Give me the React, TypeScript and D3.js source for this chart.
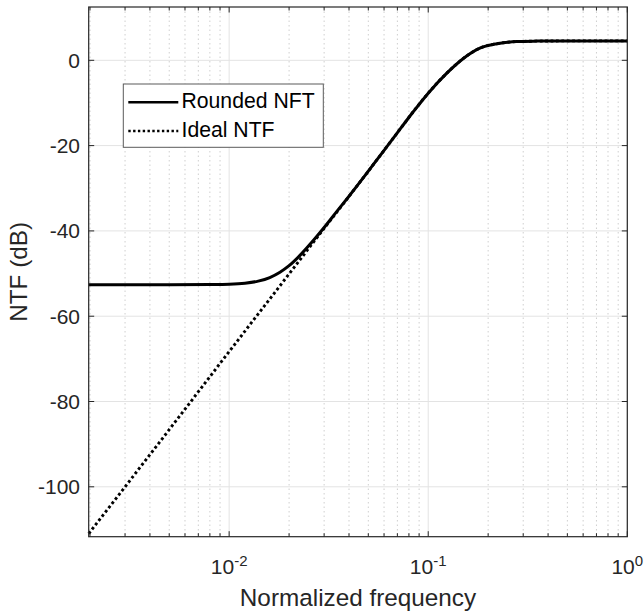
import React from "react";
import * as d3 from "d3";

// ---- data ----
const idealFreq = [0.00197, 0.002, 0.003, 0.005, 0.01, 0.02, 0.03, 0.04, 0.05, 0.0669, 0.0843, 0.1, 0.124, 0.1507, 0.183, 0.222, 0.279, 0.35, 0.5, 0.7, 1];
const idealDb = [-111.0, -110.6, -100.0, -86.6, -68.3, -50.1, -39.4, -31.9, -26.0, -18.2, -12.0, -7.7, -3.0, 0.5, 2.9, 3.9, 4.4, 4.5, 4.55, 4.55, 4.55];

const roundedFreq = [0.00197, 0.003, 0.005, 0.008, 0.01, 0.012, 0.014, 0.016, 0.018, 0.02, 0.023, 0.026, 0.03, 0.035, 0.04, 0.05, 0.0669, 0.0843, 0.1, 0.124, 0.1507, 0.183, 0.222, 0.279, 0.35, 0.5, 0.7, 1];
const roundedDb = [-52.6, -52.6, -52.6, -52.55, -52.48, -52.26, -51.78, -50.94, -49.7, -48.16, -45.45, -42.68, -39.2, -35.25, -31.86, -26.0, -18.2, -12.0, -7.7, -3.0, 0.5, 2.9, 3.9, 4.4, 4.5, 4.55, 4.55, 4.55];

const yTicks = [-100, -80, -60, -40, -20, 0];
const xMajor = [0.01, 0.1, 1];
const xMajorExp = ["-2", "-1", "0"];
const legendLabels = ["Rounded NFT", "Ideal NTF"];

const xDomain: [number, number] = [0.00197, 1];
const yDomain: [number, number] = [-111.7, 12.5];

export default function App() {
  const L = 88.7, R = 627.3, T = 7, B = 536.7;
  const x = d3.scaleLog().domain(xDomain).range([L, R]);
  const y = d3.scaleLinear().domain(yDomain).range([B, T]);

  const minor: number[] = [];
  for (const dec of [0.001, 0.01, 0.1]) {
    for (let k = 2; k <= 9; k++) {
      const v = dec * k;
      if (v >= xDomain[0] && v <= xDomain[1]) minor.push(v);
    }
  }

  const line = d3.line<[number, number]>()
    .x((d) => x(d[0]))
    .y((d) => y(d[1]))
    .curve(d3.curveMonotoneX);

  const idealPath = line(idealFreq.map((f, i) => [f, idealDb[i]] as [number, number])) || "";
  const roundedPath = line(roundedFreq.map((f, i) => [f, roundedDb[i]] as [number, number])) || "";

  const axisColor = "#262626";
  const font = "'Liberation Sans', Arial, Helvetica, sans-serif";

  return (
    <svg width={644} height={614} style={{ position: "absolute", left: 0, top: 0, background: "#fff" }} fontFamily={font}>
      <rect x={0} y={0} width={644} height={614} fill="#fff" />
      {/* minor grid */}
      {minor.map((v) => (
        <line key={"mg" + v} x1={x(v)} x2={x(v)} y1={T} y2={B} stroke="#cfcfcf" strokeWidth={1} strokeDasharray="1.5 3" />
      ))}
      {/* major grid */}
      {xMajor.map((v) => (
        <line key={"Mg" + v} x1={x(v)} x2={x(v)} y1={T} y2={B} stroke="#e3e3e3" strokeWidth={1} />
      ))}
      {yTicks.map((v) => (
        <line key={"yg" + v} x1={L} x2={R} y1={y(v)} y2={y(v)} stroke="#e3e3e3" strokeWidth={1} />
      ))}

      {/* curves */}
      <path d={idealPath} fill="none" stroke="#000" strokeWidth={2.9} strokeDasharray="2.8 2.6" />
      <path d={roundedPath} fill="none" stroke="#000" strokeWidth={3} />

      {/* axes box */}
      <rect x={L} y={T} width={R - L} height={B - T} fill="none" stroke={axisColor} strokeWidth={1.2} />
      {/* ticks */}
      {minor.map((v) => (
        <g key={"mt" + v}>
          <line x1={x(v)} x2={x(v)} y1={B} y2={B - 3.5} stroke={axisColor} strokeWidth={1} />
          <line x1={x(v)} x2={x(v)} y1={T} y2={T + 3.5} stroke={axisColor} strokeWidth={1} />
        </g>
      ))}
      {xMajor.map((v) => (
        <g key={"Mt" + v}>
          <line x1={x(v)} x2={x(v)} y1={B} y2={B - 5.5} stroke={axisColor} strokeWidth={1} />
          <line x1={x(v)} x2={x(v)} y1={T} y2={T + 5.5} stroke={axisColor} strokeWidth={1} />
        </g>
      ))}
      {yTicks.map((v) => (
        <g key={"yt" + v}>
          <line x1={L} x2={L + 5.5} y1={y(v)} y2={y(v)} stroke={axisColor} strokeWidth={1} />
          <line x1={R} x2={R - 5.5} y1={y(v)} y2={y(v)} stroke={axisColor} strokeWidth={1} />
          <text x={80} y={y(v) + 7.5} textAnchor="end" fontSize={21} fill={axisColor}>{String(v)}</text>
        </g>
      ))}
      {xMajor.map((v, i) => (
        <text key={"xl" + v} x={x(v)} y={574} textAnchor="middle" fontSize={21} fill={axisColor}>
          <tspan>10</tspan>
          <tspan dy={-8.5} fontSize={15}>{xMajorExp[i]}</tspan>
        </text>
      ))}

      {/* axis labels */}
      <text x={(L + R) / 2} y={606} textAnchor="middle" fontSize={24.3} fill={axisColor}>Normalized frequency</text>
      <text transform={`translate(26.7, ${(T + B) / 2}) rotate(-90)`} textAnchor="middle" fontSize={24.3} fill={axisColor}>NTF (dB)</text>

      {/* legend */}
      <rect x={123.3} y={84} width={200} height={63.3} fill="#fff" stroke="#5a5a5a" strokeWidth={1} />
      <line x1={128.3} x2={178.3} y1={102.3} y2={102.3} stroke="#000" strokeWidth={2.6} />
      <line x1={128.3} x2={178.3} y1={131} y2={131} stroke="#000" strokeWidth={2.4} strokeDasharray="2.4 2.4" />
      <text x={181.5} y={108.3} fontSize={21.2} fill="#000">{legendLabels[0]}</text>
      <text x={181.5} y={136.7} fontSize={21.2} fill="#000">{legendLabels[1]}</text>
    </svg>
  );
}
